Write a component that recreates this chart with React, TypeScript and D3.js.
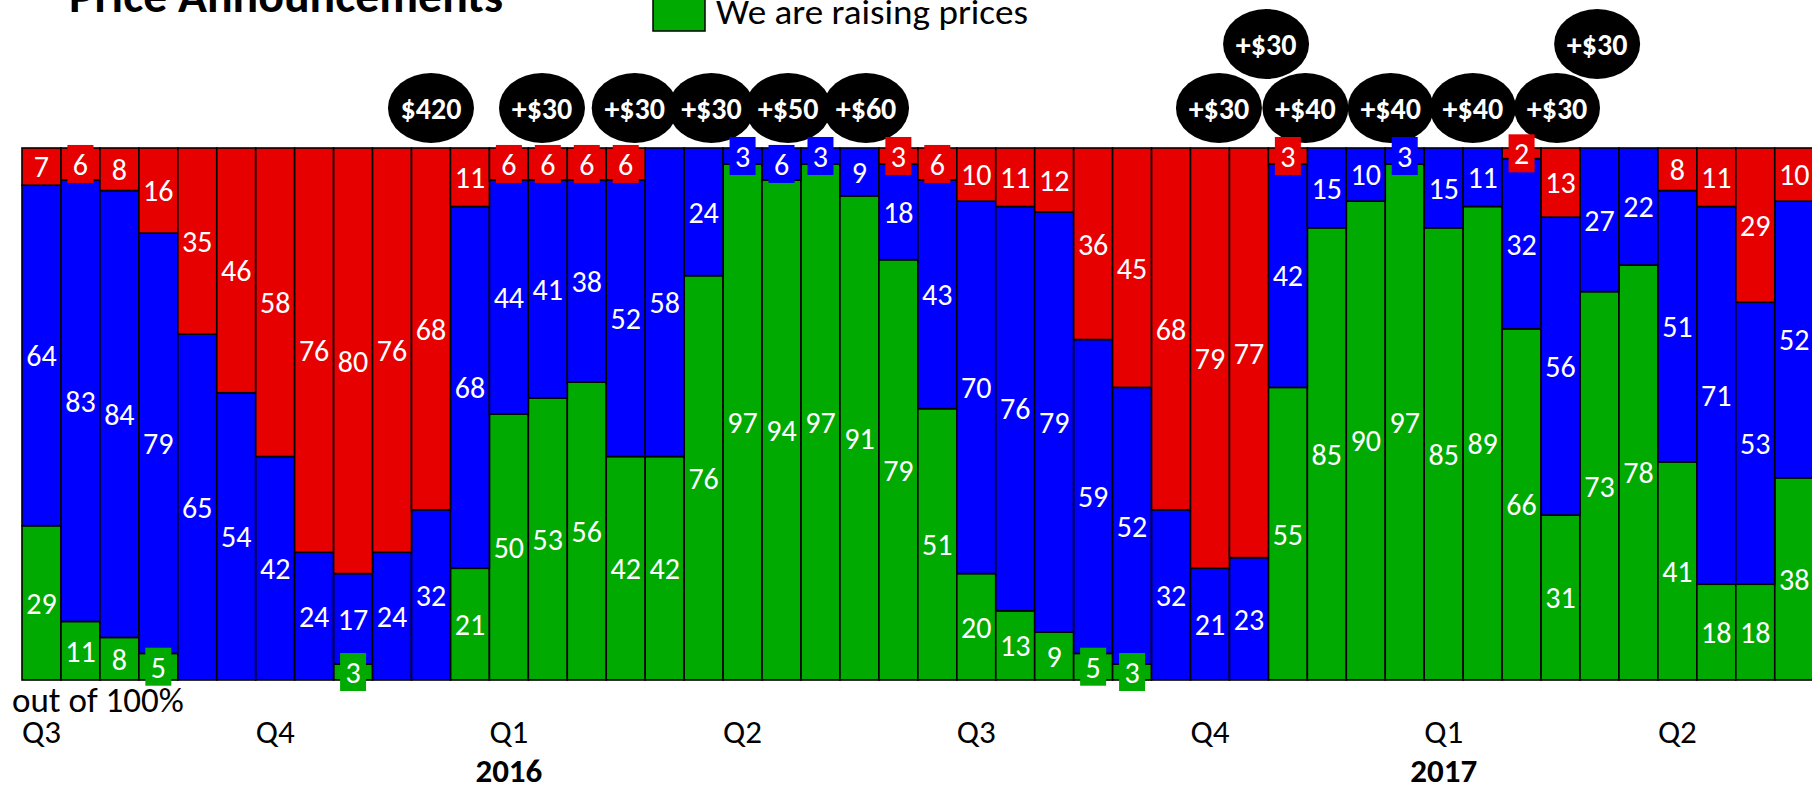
import React from 'react';
import * as d3 from 'd3';

// ---- data (bottom -> top of each stacked 100% bar) ----
const raising = [29, 11, 8, 5, 0, 0, 0, 0, 3, 0, 0, 21, 50, 53, 56, 42, 42, 76, 97, 94, 97, 91, 79, 51, 20, 13, 9, 5, 3, 0, 0, 0, 55, 85, 90, 97, 85, 89, 66, 31, 73, 78, 41, 18, 18, 38];
const holding = [64, 83, 84, 79, 65, 54, 42, 24, 17, 24, 32, 68, 44, 41, 38, 52, 58, 24, 3, 6, 3, 9, 18, 43, 70, 76, 79, 59, 52, 32, 21, 23, 42, 15, 10, 3, 15, 11, 32, 56, 27, 22, 51, 71, 53, 52];
const cutting = [7, 6, 8, 16, 35, 46, 58, 76, 80, 76, 68, 11, 6, 6, 6, 6, 0, 0, 0, 0, 0, 0, 3, 6, 10, 11, 12, 36, 45, 68, 79, 77, 3, 0, 0, 0, 0, 0, 2, 13, 0, 0, 8, 11, 29, 10];

const periods = raising.map((_, i) => i);
const seriesKeys = ['raising', 'holding', 'cutting'];
const seriesColors = ['#00AA00', '#0000FF', '#E60000'];
const legendLabel = 'We are raising prices';

// quarter tick labels (at period index)
const quarterAt = [0, 6, 12, 18, 24, 30, 36, 42];
const quarterLabels = ['Q3', 'Q4', 'Q1', 'Q2', 'Q3', 'Q4', 'Q1', 'Q2'];
const yearAt = [12, 36];
const yearLabels = ['2016', '2017'];

// price announcements (period position, row 0 = lower, 1 = upper)
const announceAt = [10.0, 12.85, 15.23, 17.2, 19.17, 21.17, 30.23, 31.44, 32.45, 34.64, 36.75, 38.91, 39.94];
const announceRow = [0, 0, 0, 0, 0, 0, 0, 1, 0, 0, 0, 0, 1];
const announceLabels = ['$420', '+$30', '+$30', '+$30', '+$50', '+$60', '+$30', '+$30', '+$40', '+$40', '+$40', '+$30', '+$30'];

const W = 1812;
const H = 790;
const FONT = 'Carlito, Lato, sans-serif';

export default function App() {
  const left = 22;
  const bw = 38.95;
  const x = d3.scaleBand<number>().domain(periods).range([left, left + periods.length * bw]).paddingInner(0).paddingOuter(0);
  const xf = d3.scaleLinear().domain([0, periods.length]).range([left, left + periods.length * bw]);
  const y = d3.scaleLinear().domain([0, 100]).range([680, 148]);

  const table = periods.map((p, i) => ({ p, raising: raising[i], holding: holding[i], cutting: cutting[i] }));
  const stacked = d3.stack<any>().keys(seriesKeys)(table);

  const rowY = [108, 44];

  return (
    <svg width={W} height={H} style={{ position: 'absolute', left: 0, top: 0, background: '#fff' }} fontFamily={FONT}>
      {/* title (cut off at the top) */}
      <text x={69} y={12} fontSize={46} fontWeight="bold" textLength={434} lengthAdjust="spacingAndGlyphs" fill="#000">Price Announcements</text>
      {/* legend (visible entry) */}
      <rect x={653} y={-21} width={52} height={52} fill={seriesColors[0]} stroke="#000" strokeWidth={1.5} />
      <text x={716} y={24} fontSize={35} textLength={312} lengthAdjust="spacingAndGlyphs" fill="#000">{legendLabel}</text>

      {/* bars */}
      <g>
        {stacked.map((s, si) =>
          s.map((d, i) => {
            const h = y(d[0]) - y(d[1]);
            if (h <= 0) return null;
            return (
              <rect key={`${si}-${i}`} x={x(periods[i])} y={y(d[1])} width={x.bandwidth()} height={h}
                fill={seriesColors[si]} stroke="#000" strokeWidth={1.6} />
            );
          })
        )}
      </g>

      {/* announcement bubbles */}
      <g>
        {announceAt.map((a, i) => (
          <ellipse key={i} cx={xf(a + 0.5)} cy={rowY[announceRow[i]]} rx={43} ry={35} fill="#000" />
        ))}
        {announceAt.map((a, i) => (
          <text key={i} x={xf(a + 0.5)} y={rowY[announceRow[i]]} dy="0.36em" textAnchor="middle" fontSize={30} fontWeight="bold" fill="#fff">
            {announceLabels[i]}
          </text>
        ))}
      </g>

      {/* data labels */}
      <g>
        {stacked.map((s, si) =>
          s.map((d, i) => {
            const v = d[1] - d[0];
            if (v <= 0) return null;
            const cx = (x(periods[i]) as number) + x.bandwidth() / 2;
            const cy = (y(d[0]) + y(d[1])) / 2;
            const small = v <= 6;
            return (
              <g key={`l${si}-${i}`}>
                {small && <rect x={cx - 13} y={cy - 19} width={26} height={38} fill={seriesColors[si]} />}
                <text x={cx} y={cy} dy="0.36em" textAnchor="middle" fontSize={30} fill="#fff">{v}</text>
              </g>
            );
          })
        )}
      </g>

      {/* axis text */}
      <text x={12} y={712} fontSize={35} fill="#000">out of 100%</text>
      {quarterAt.map((q, i) => (
        <text key={`q${i}`} x={(x(periods[q]) as number) + x.bandwidth() / 2} y={743} textAnchor="middle" fontSize={33} fill="#000">{quarterLabels[i]}</text>
      ))}
      {yearAt.map((q, i) => (
        <text key={`y${i}`} x={(x(periods[q]) as number) + x.bandwidth() / 2} y={782} textAnchor="middle" fontSize={33} fontWeight="bold" fill="#000">{yearLabels[i]}</text>
      ))}
    </svg>
  );
}
